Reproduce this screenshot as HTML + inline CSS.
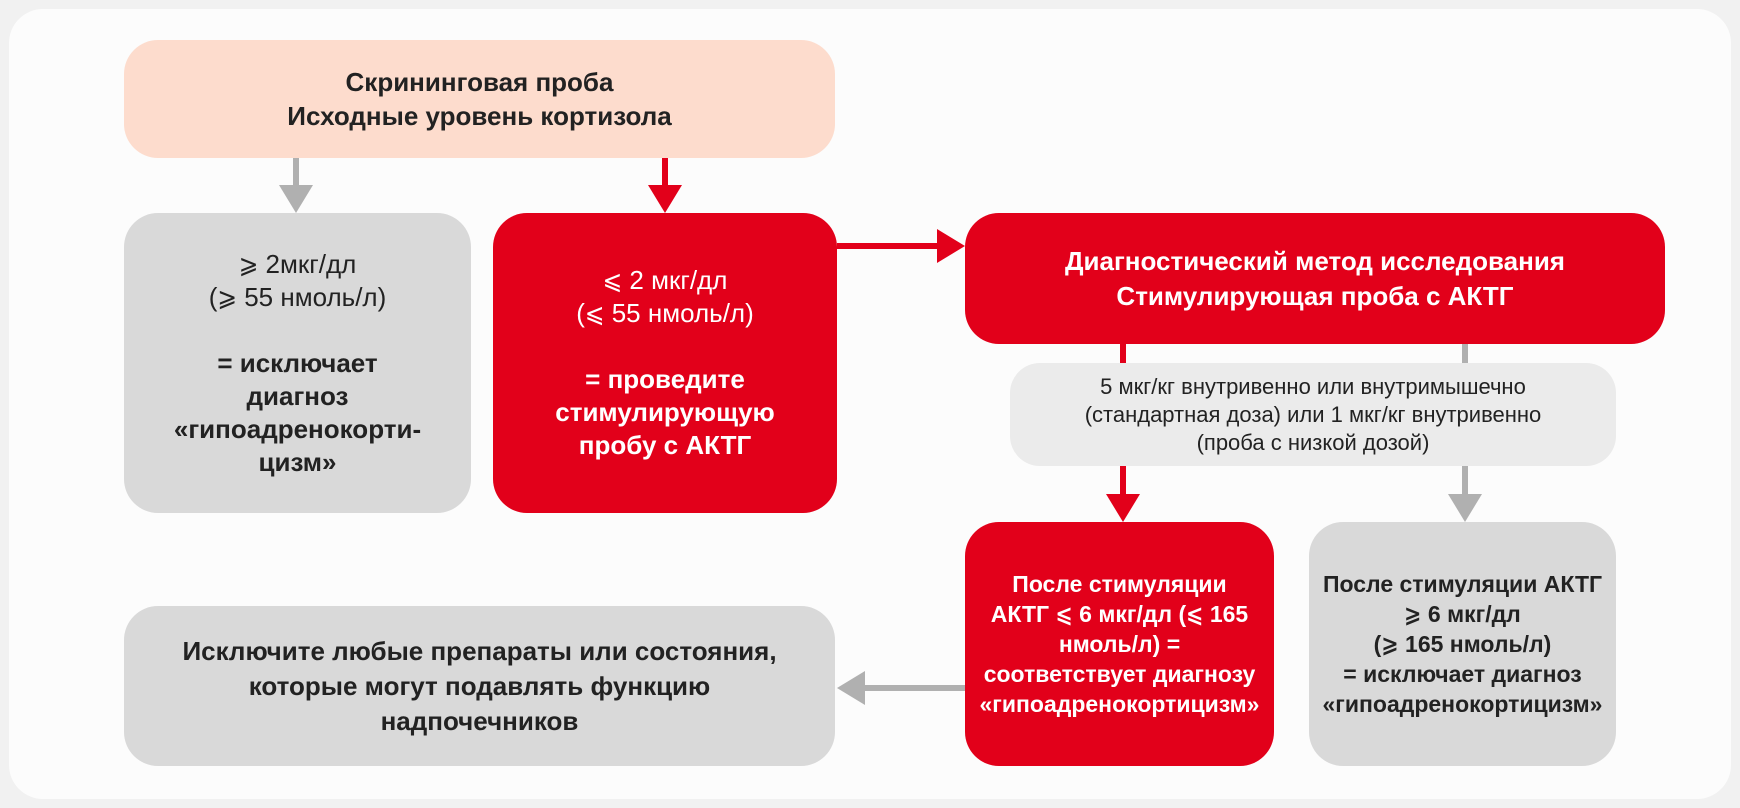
<!DOCTYPE html>
<html><head><meta charset="utf-8"><style>
*{margin:0;padding:0;box-sizing:border-box}
body{width:1740px;height:808px;background:#f1f1f1;position:relative;overflow:hidden;font-family:"Liberation Sans Narrow","Liberation Sans","DejaVu Sans Condensed",sans-serif;}
.card{position:absolute;left:9px;top:9px;width:1722px;height:790px;background:#fcfcfc;border-radius:34px;}
.b{position:absolute;display:flex;align-items:center;justify-content:center;text-align:center;border-radius:34px;font-weight:bold;font-size:25px;line-height:33px;color:#222;}
.g{background:#d9d9d9}
.r{background:#e2001a;color:#fff}
.n{font-weight:normal}
svg{position:absolute;left:0;top:0}
</style></head><body>
<div class="card"></div>
<div class="b" style="left:124px;top:40px;width:711px;height:118px;background:#fddccd;font-size:26px;line-height:34px">Скрининговая проба<br>Исходные уровень кортизола</div>
<div class="b g" style="left:124px;top:213px;width:347px;height:300px;font-size:26px"><div><span class="n">⩾ 2мкг/дл<br>(⩾ 55 нмоль/л)</span><br><br>= исключает<br>диагноз<br>«гипоадренокорти-<br>цизм»</div></div>
<div class="b r" style="left:493px;top:213px;width:344px;height:300px;font-size:26px"><div><span class="n">⩽ 2 мкг/дл<br>(⩽ 55 нмоль/л)</span><br><br>= проведите<br>стимулирующую<br>пробу с АКТГ</div></div>
<div class="b r" style="left:965px;top:213px;width:700px;height:131px;font-size:26px;line-height:35px">Диагностический метод исследования<br>Стимулирующая проба с АКТГ</div>
<div class="b n" style="left:1010px;top:363px;width:606px;height:103px;background:#ebebeb;font-weight:normal;font-size:22px;line-height:28px;border-radius:30px">5 мкг/кг внутривенно или внутримышечно<br>(стандартная доза) или 1 мкг/кг внутривенно<br>(проба с низкой дозой)</div>
<div class="b r" style="left:965px;top:522px;width:309px;height:244px;font-size:23px;line-height:30px">После стимуляции<br>АКТГ ⩽ 6 мкг/дл (⩽ 165<br>нмоль/л) =<br>соответствует диагнозу<br>«гипоадренокортицизм»</div>
<div class="b g" style="left:1309px;top:522px;width:307px;height:244px;font-size:23px;line-height:30px">После стимуляции АКТГ<br>⩾ 6 мкг/дл<br>(⩾ 165 нмоль/л)<br>= исключает диагноз<br>«гипоадренокортицизм»</div>
<div class="b g" style="left:124px;top:606px;width:711px;height:160px;font-size:26px;line-height:35px">Исключите любые препараты или состояния,<br>которые могут подавлять функцию<br>надпочечников</div>
<svg width="1740" height="808">
<g fill="#b0b0b0" stroke="#b0b0b0" stroke-width="6">
<line x1="296" y1="158" x2="296" y2="185"/><polygon points="279,185 313,185 296,213" stroke="none"/>
<line x1="1465" y1="344" x2="1465" y2="363"/><line x1="1465" y1="466" x2="1465" y2="494"/><polygon points="1448,494 1482,494 1465,522" stroke="none"/>
<line x1="965" y1="688" x2="865" y2="688"/><polygon points="865,671 865,705 837,688" stroke="none"/>
</g>
<g fill="#e2001a" stroke="#e2001a" stroke-width="6">
<line x1="665" y1="158" x2="665" y2="185"/><polygon points="648,185 682,185 665,213" stroke="none"/>
<line x1="837" y1="246" x2="937" y2="246"/><polygon points="937,229 937,263 965,246" stroke="none"/>
<line x1="1123" y1="344" x2="1123" y2="363"/><line x1="1123" y1="466" x2="1123" y2="494"/><polygon points="1106,494 1140,494 1123,522" stroke="none"/>
</g>
</svg>
</body></html>
